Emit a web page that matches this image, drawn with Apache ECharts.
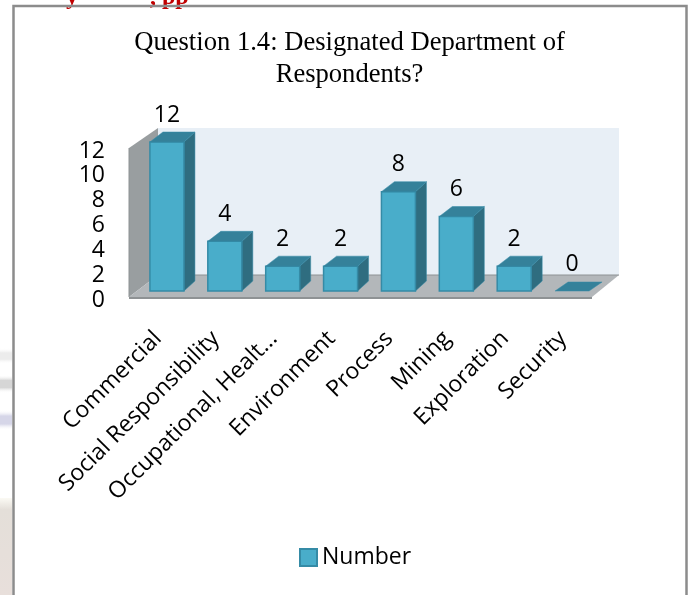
<!DOCTYPE html>
<html>
<head>
<meta charset="utf-8">
<style>html,body{margin:0;padding:0;background:#fff}#c{width:691px;height:595px}</style>
<script src="https://cdn.jsdelivr.net/npm/echarts@6/dist/echarts.min.js"></script>
</head>
<body>
<div id="c"></div>
<script>
const categories = ['Commercial','Social Responsibility','Occupational, Healt...','Environment','Process','Mining','Exploration','Security'];
const values = [12,4,2,2,8,6,2,0];
const seriesName = 'Number';
const titleText = 'Question 1.4: Designated Department of\nRespondents?';

const LABEL_FONT = '"Open Sans"';
const C = {front:'#49adca',edge:'#358ba6',top:'#35819a',side:'#2f6d80',wall:'#e8eff6',left:'#999ea0',floor:'#b3b7ba',lip:'#8e9294'};
const DX = 9, DY = -6;        // bars stand this far behind the front floor edge
const DEPTH_X = 11, DEPTH_Y = -10;

const chart = echarts.init(document.getElementById('c'), null, {renderer:'canvas'});

function poly(points, fill, stroke, lw){
  return {type:'polygon',shape:{points},style:{fill,stroke:stroke||fill,lineWidth:lw||0}};
}
function softBand(y, h, color){
  return {type:'rect',silent:true,z:-1,shape:{x:0,y,width:12,height:h},style:{fill:new echarts.graphic.LinearGradient(0,0,0,1,[
    {offset:0,color:'rgba(255,255,255,0)'},{offset:.3,color},{offset:.7,color},{offset:1,color:'rgba(255,255,255,0)'}])}};
}
function renderFrame(params, api){
  const half = api.size([1,0])[0]/2;
  const a = api.coord([0,0]), b = api.coord([categories.length-1,12]);
  const x0=a[0]-half, x1=b[0]+half, y0=a[1], y1=b[1];
  const bx=29, by=-22, wy=-20;
  return {type:'group',silent:true,children:[
    poly([[x0+bx,y1+wy],[x1+bx-2,y1+wy],[x1+bx-2,y0+by],[x0+bx,y0+by]],C.wall),
    poly([[x0,y1],[x0+bx,y1+wy],[x0+bx,y0+by],[x0,y0]],C.left),
    poly([[x0,y0],[x0+bx,y0+by],[x1+bx-2,y0+by],[x1,y0]],C.floor),
    {type:'line',shape:{x1:x0+bx,y1:y0+by,x2:x1+bx-2,y2:y0+by},style:{stroke:C.lip,lineWidth:1}},
    {type:'line',shape:{x1:x0,y1:y0+1,x2:x1,y2:y0+1},style:{stroke:C.lip,lineWidth:2}},
    {type:'line',shape:{x1:x0,y1:y1,x2:x0,y2:y0},style:{stroke:C.lip,lineWidth:1}}
  ]};
}
function renderBar(params, api){
  const i = api.value(0), v = api.value(1);
  const base = api.coord([i,0]), top = api.coord([i,v]);
  const w = 34;
  const L = base[0]+DX-w/2, R = L+w, B = base[1]+DY, T = top[1]+DY;
  const children = [];
  if (v>0){
    children.push(poly([[R,T],[R+DEPTH_X,T+DEPTH_Y],[R+DEPTH_X,B+DEPTH_Y],[R,B]],C.side,C.edge,0.5));
    children.push({type:'rect',shape:{x:L,y:T,width:w,height:B-T},style:{fill:C.front,stroke:C.edge,lineWidth:1.5}});
  }
  children.push(poly([[L,T],[L+DEPTH_X+2,T+DEPTH_Y+(v>0?0:1)],[R+DEPTH_X+(v>0?0:2),T+DEPTH_Y+(v>0?0:1)],[R,T]],C.top,C.edge,0.5));
  children.push({type:'text',style:{text:String(v),x:L+w/2,y:T+DEPTH_Y-17,align:'center',verticalAlign:'middle',
    fontFamily:LABEL_FONT,fontSize:23,fill:'#000'}});
  return {type:'group',children};
}

chart.setOption({
  animation:false,
  backgroundColor:'#fff',
  title:{text:titleText,left:344.5,top:22,textAlign:'center',
    textStyle:{fontFamily:'"Liberation Serif"',fontSize:26.6,fontWeight:'normal',color:'#000',lineHeight:32}},
  legend:{data:[{name:seriesName,icon:'rect'}],left:294,top:541,itemWidth:17,itemHeight:17,itemGap:5,
    itemStyle:{color:C.front,borderColor:C.edge,borderWidth:2},
    textStyle:{fontFamily:LABEL_FONT,fontSize:23,color:'#000'}},
  grid:{left:129,right:99,top:148,height:149,containLabel:false},
  xAxis:{type:'category',data:categories,boundaryGap:true,
    axisLine:{show:false},axisTick:{show:false},splitLine:{show:false},
    axisLabel:{interval:0,rotate:45,margin:38,fontFamily:LABEL_FONT,fontSize:23,color:'#000',hideOverlap:false}},
  yAxis:{type:'value',min:0,max:12,interval:2,
    axisLine:{show:false},axisTick:{show:false},splitLine:{show:false},
    axisLabel:{margin:24,formatter:v=>'{t|'+v+'}',rich:{t:{padding:[6,0,0,0],fontFamily:LABEL_FONT,fontSize:23,color:'#000'}},hideOverlap:false}},
  graphic:[
    {type:'text',silent:true,style:{text:'y',x:66,y:-14,fontFamily:'"Liberation Serif"',fontSize:24,fontWeight:'bold',fill:'#c00000'}},
    {type:'text',silent:true,style:{text:',',x:150,y:-14,fontFamily:'"Liberation Serif"',fontSize:24,fontWeight:'bold',fill:'#c00000'}},
    {type:'text',silent:true,style:{text:'pp',x:162,y:-14,fontFamily:'"Liberation Serif"',fontSize:24,fontWeight:'bold',fill:'#c00000'}},
    softBand(348,16,'#ececec'),
    softBand(375,18,'#d6d6d6'),
    softBand(410,20,'#d6d6e8'),
    {type:'rect',silent:true,z:-1,shape:{x:0,y:498,width:12,height:97},style:{fill:new echarts.graphic.LinearGradient(0,0,0,1,[
      {offset:0,color:'#fbfaf4'},{offset:.12,color:'#e4dfd9'},{offset:1,color:'#e8dfdb'}])}},
    {type:'polyline',silent:true,z:0,shape:{points:[[13.5,595],[13.5,6],[686.5,6],[686.5,595]]},style:{fill:'none',stroke:'#8c8c8c',lineWidth:2.5}}
  ],
  series:[
    {type:'custom',name:'frame',renderItem:renderFrame,data:[[0,0]],z:1,silent:true,clip:false,encode:{x:0,y:1}},
    {type:'custom',name:seriesName,renderItem:renderBar,data:values.map((v,i)=>[i,v]),z:2,clip:false,encode:{x:0,y:1},
     itemStyle:{color:C.front}}
  ]
});
</script>
</body>
</html>
